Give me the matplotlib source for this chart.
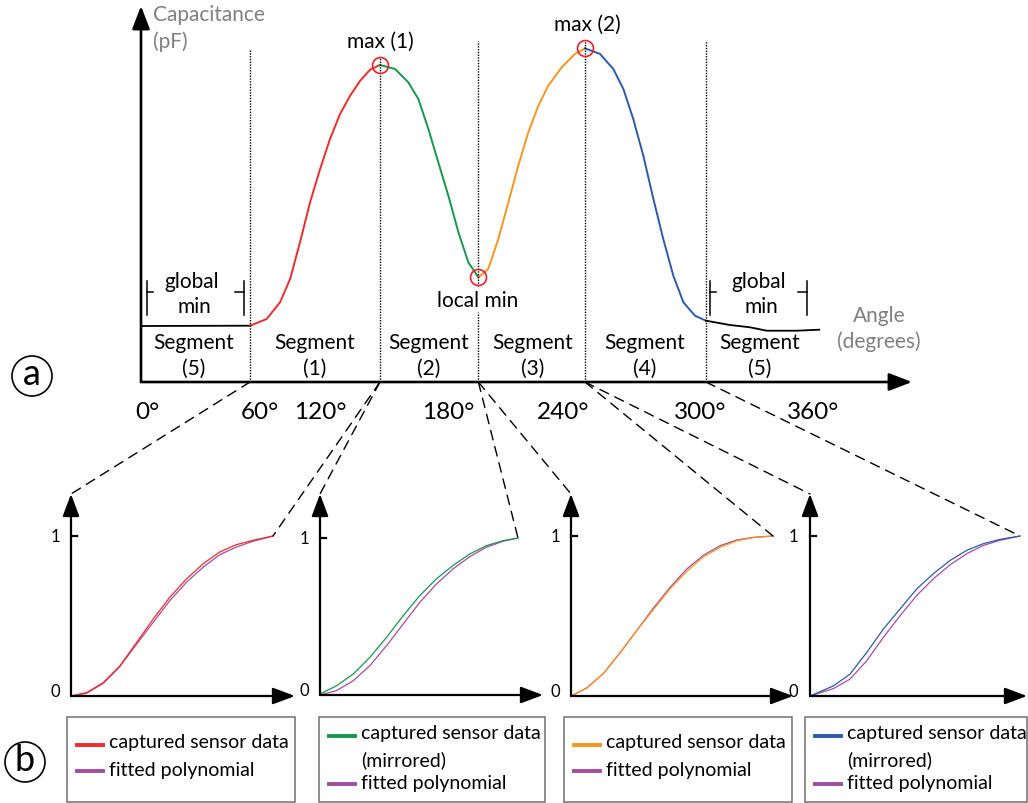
import matplotlib
matplotlib.use("Agg")
import matplotlib.pyplot as plt
from matplotlib.patches import Circle, Rectangle, ConnectionPatch

plt.rcParams['font.family'] = ['Lato', 'DejaVu Sans']

W, H = 1028, 804

# ---- top chart: capacitance vs angle (angle in degrees, capacitance in relative units)
flat_deg = [0.0, 58.5]
flat_cap = [56.0, 56.3]
seg1_deg = [58.5, 67.4, 74.6, 80.0, 85.3, 90.7, 96.1, 101.4, 106.8, 112.2, 117.6, 122.9, 128.2]
seg1_cap = [56.3, 63.0, 79.7, 103.0, 139.7, 179.7, 213.0, 243.0, 268.0, 286.3, 301.3, 312.3, 317.0]
seg2_deg = [128.2, 136.3, 143.4, 148.8, 154.2, 159.5, 164.9, 170.3, 175.6, 181.0]
seg2_cap = [317.0, 313.0, 299.7, 283.0, 253.0, 219.7, 186.3, 149.7, 119.7, 104.7]
seg3_deg = [181.0, 186.3, 191.7, 197.1, 202.4, 207.8, 213.2, 218.5, 225.7, 232.8, 238.2]
seg3_cap = [104.7, 113.0, 143.0, 179.7, 216.3, 249.7, 276.3, 296.3, 314.7, 328.0, 333.7]
seg4_deg = [238.2, 246.3, 253.4, 258.8, 264.1, 269.5, 274.9, 280.2, 285.6, 291.0, 297.2, 303.1]
seg4_cap = [333.7, 328.0, 313.0, 293.0, 263.0, 226.3, 183.0, 143.0, 106.3, 79.7, 66.3, 61.3]
seg5_deg = [303.1, 316.0, 326.7, 335.7, 351.8, 363.9]
seg5_cap = [61.3, 57.0, 54.7, 51.3, 51.3, 52.3]

seg_bounds = [58.5, 128.2, 181.0, 238.2, 303.1]
extrema_deg = [128.2, 181.0, 238.2]
extrema_cap = [317.0, 104.7, 333.7]

angle_pos = [3.2, 63.8, 96.0, 164.7, 226.4, 299.9, 360.5]
angle_labels = ['0°', '60°', '120°', '180°', '240°', '300°', '360°']
segment_pos = [28.4, 93.4, 154.5, 210.3, 270.4, 332.1]
segment_names = ['(5)', '(1)', '(2)', '(3)', '(4)', '(5)']

# ---- normalised segment plots
norm_x1 = [0, .077, .16, .242, .325, .407, .489, .572, .654, .736, .819, .901, 1]
data1 = [0, .021, .084, .188, .335, .481, .617, .732, .826, .900, .946, .973, 1]
poly1 = [0, .017, .079, .184, .324, .460, .596, .711, .805, .883, .931, .967, 1]
norm_x2 = [0, .084, .168, .252, .336, .42, .504, .588, .672, .756, .84, .924, 1]
data2 = [.006, .059, .134, .240, .367, .505, .633, .740, .825, .898, .951, .983, 1]
poly2 = [0, .028, .091, .187, .314, .452, .590, .707, .803, .881, .941, .979, 1]
norm_x3 = [0, .078, .16, .243, .326, .408, .491, .574, .656, .739, .821, .904, 1]
data3 = [0, .050, .140, .270, .410, .540, .670, .780, .870, .930, .970, .990, 1]
poly3 = [0, .050, .140, .270, .410, .550, .680, .795, .880, .940, .975, .992, 1]
norm_x4 = [0, .111, .19, .27, .349, .429, .508, .587, .667, .746, .825, .905, 1]
data4 = [0, .063, .136, .272, .418, .544, .669, .764, .847, .910, .952, .979, 1]
poly4 = [0, .046, .105, .220, .366, .502, .628, .732, .820, .889, .941, .973, 1]

RED, GREEN, ORANGE, BLUE, PURPLE = '#ee2b2b', '#16964a', '#f7961f', '#2c5aab', '#a04ea4'
GRAY = '#7f7f7f'

fig = plt.figure(figsize=(W / 100, H / 100), dpi=100)

canvas = fig.add_axes([0, 0, 1, 1])
canvas.set_xlim(0, W)
canvas.set_ylim(H, 0)
canvas.axis('off')

k = 360 / 671.0
ax = fig.add_axes([141 / W, (H - 383) / H, (W - 141) / W, 383 / H])
ax.set_xlim(0, (W - 141) * k)
ax.set_ylim(0, 383)
for s in ax.spines.values():
    s.set_visible(False)
ax.set_yticks([])
ax.set_xticks(angle_pos, angle_labels)
ax.tick_params(axis='x', length=0, pad=14, labelsize=17.5)
ax.patch.set_alpha(0)

arrow_kw = dict(arrowstyle='-|>,head_length=0.7,head_width=0.27', lw=1.9, color='k',
                mutation_scale=20, shrinkA=0, shrinkB=0)
ax.annotate('', xy=(0, 376), xytext=(0, 0), arrowprops=arrow_kw, annotation_clip=False)
ax.annotate('', xy=((912 - 141) * k, 0), xytext=(0, 0), arrowprops=arrow_kw, annotation_clip=False)

ax.plot(flat_deg, flat_cap, color='k', lw=1.3)
ax.plot(seg1_deg, seg1_cap, color=RED, lw=1.4)
ax.plot(seg2_deg, seg2_cap, color=GREEN, lw=1.4)
ax.plot(seg3_deg, seg3_cap, color=ORANGE, lw=1.4)
ax.plot(seg4_deg, seg4_cap, color=BLUE, lw=1.4)
ax.plot(seg5_deg, seg5_cap, color='k', lw=1.3)

dot = (0, (1, 1))
ax.vlines(seg_bounds[0], 0, 333, color='k', lw=1.0, linestyles=[dot])
ax.vlines(seg_bounds[1], 0, 325, color='k', lw=1.0, linestyles=[dot])
ax.vlines(seg_bounds[2], 96, 341, color='k', lw=1.0, linestyles=[dot])
ax.vlines(seg_bounds[2], 0, 70, color='k', lw=1.0, linestyles=[dot])
ax.vlines(seg_bounds[3], 0, 342, color='k', lw=1.0, linestyles=[dot])
ax.vlines(seg_bounds[4], 0, 341, color='k', lw=1.0, linestyles=[dot])
ax.plot(extrema_deg, extrema_cap, 'o', ms=11.5, mfc='none', mec='#e8202a', mew=1.2)

for x, n in zip(segment_pos, segment_names):
    ax.text(x, 40, 'Segment', ha='center', va='center', fontsize=15)
    ax.text(x, 14, n, ha='center', va='center', fontsize=15)

# labels on the top chart (pixel positions on the canvas)
canvas.text(153, 15, 'Capacitance', color=GRAY, fontsize=15, va='center', ha='left')
canvas.text(153, 42, '(pF)', color=GRAY, fontsize=15, va='center', ha='left')
canvas.text(879, 316, 'Angle', color=GRAY, fontsize=15, va='center', ha='center')
canvas.text(879, 342, '(degrees)', color=GRAY, fontsize=15, va='center', ha='center')
canvas.text(380, 42, 'max (1)', fontsize=15, va='center', ha='center')
canvas.text(587, 25, 'max (2)', fontsize=15, va='center', ha='center')
canvas.text(478, 301, 'local min', fontsize=15, va='center', ha='center')
for cx, lx, rx in [(192, 147, 244), (759, 710, 807)]:
    canvas.text(cx, 282, 'global', fontsize=15, va='center', ha='center')
    canvas.text(cx + 2, 307, 'min', fontsize=15, va='center', ha='center')
    canvas.plot([lx, lx], [282, 316], color='k', lw=1.1)
    canvas.plot([lx, lx + 6], [293, 293], color='k', lw=1.1)
    canvas.plot([rx, rx], [282, 316], color='k', lw=1.1)
    canvas.plot([rx - 9, rx], [293, 293], color='k', lw=1.1)

for cx, cy, letter in [(32, 377, 'a'), (25, 763, 'b')]:
    canvas.add_patch(Circle((cx, cy), 20, fill=False, lw=1.2, color='k'))
    canvas.text(cx, cy - 2, letter, fontsize=26, ha='center', va='center')

# ---- small normalised plots
layout = [  # origin x, origin y, end x, end y, x tip
    (71, 697, 273, 537, 295),
    (320, 696, 518, 539, 543),
    (571, 697, 773, 537, 793),
    (810, 697, 1020, 537, 1027),
]
series = [(norm_x1, data1, poly1, RED), (norm_x2, data2, poly2, GREEN),
          (norm_x3, data3, poly3, ORANGE), (norm_x4, data4, poly4, BLUE)]
small_kw = dict(arrowstyle='-|>,head_length=0.8,head_width=0.3', lw=1.6, color='k',
                mutation_scale=17, shrinkA=0, shrinkB=0)
small_axes = []
for (ox, oy, ex, ey, xt), (nx, d, p, c) in zip(layout, series):
    yt = 495
    sa = fig.add_axes([ox / W, (H - oy) / H, (xt - ox) / W, (oy - yt) / H])
    xmax = (xt - ox) / (ex - ox)
    ymax = (oy - yt) / (oy - ey)
    sa.set_xlim(0, xmax)
    sa.set_ylim(0, ymax)
    sa.axis('off')
    sa.patch.set_alpha(0)
    sa.annotate('', xy=(0, ymax), xytext=(0, 0), arrowprops=small_kw, annotation_clip=False)
    sa.annotate('', xy=(xmax, 0), xytext=(0, 0), arrowprops=small_kw, annotation_clip=False)
    sa.plot([0, 0.03], [1, 1], color='k', lw=1.6, clip_on=False)
    sa.text(-0.055, 1, '1', fontsize=12, ha='right', va='center')
    sa.text(-0.055, 0.03, '0', fontsize=12, ha='right', va='center')
    sa.plot(nx, p, color=PURPLE, lw=0.9, clip_on=False)
    sa.plot(nx, d, color=c, lw=0.9, clip_on=False)
    small_axes.append(sa)

# ---- dashed connectors from segment boundaries to the normalised plots
links = [(0, 0, 'top'), (1, 0, 'end'), (1, 1, 'top'), (2, 1, 'end'), (2, 2, 'top'),
         (3, 2, 'end'), (3, 3, 'top'), (4, 3, 'end')]
for b, i, where in links:
    sa = small_axes[i]
    xyB = (0, sa.get_ylim()[1]) if where == 'top' else (1, 1)
    con = ConnectionPatch(xyA=(seg_bounds[b], 0), coordsA=ax.transData,
                          xyB=xyB, coordsB=sa.transData, color='k', lw=1.0,
                          linestyle=(0, (7, 5)))
    fig.add_artist(con)

# ---- legend boxes
legends = [
    (67, 295, RED, ['captured sensor data'], 746, 772),
    (319, 545, GREEN, ['captured sensor data', '(mirrored)'], 737, 785),
    (564, 792, ORANGE, ['captured sensor data'], 746, 772),
    (805, 1027, BLUE, ['captured sensor data', '(mirrored)'], 737, 785),
]
for x0, x1, c, lines, y_data, y_poly in legends:
    canvas.add_patch(Rectangle((x0, 718), x1 - x0, 85, fill=False, ec='#6f6f6f', lw=1.1))
    canvas.plot([x0 + 10, x0 + 36], [y_data, y_data], color=c, lw=2.8)
    canvas.plot([x0 + 10, x0 + 36], [y_poly, y_poly], color=PURPLE, lw=2.8)
    for j, t in enumerate(lines):
        canvas.text(x0 + 42, y_data - 3 + 26 * j, t, fontsize=14, va='center', ha='left')
    canvas.text(x0 + 42, y_poly - 1, 'fitted polynomial', fontsize=14, va='center', ha='left')

fig.savefig('out.png', dpi=100)
